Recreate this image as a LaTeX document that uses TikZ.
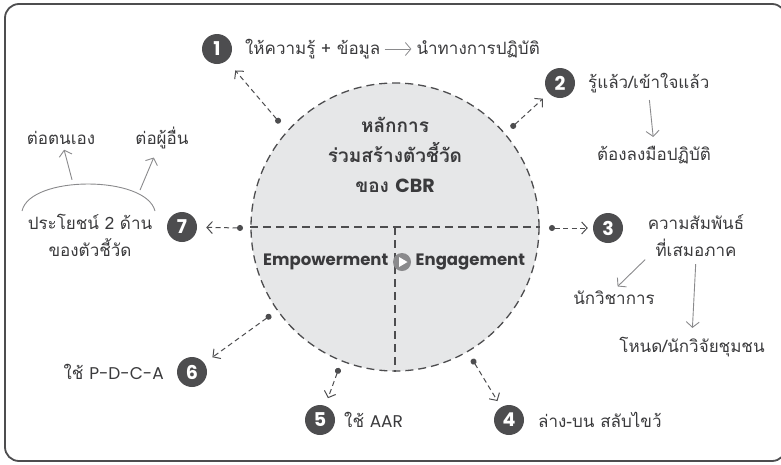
\documentclass[tikz,border=0pt]{standalone}
\usepackage{fontspec}
\setmainfont{Poppins}
\newfontfamily\thaifont[Script=Thai]{Loma}
\usetikzlibrary{arrows.meta,positioning}
\definecolor{darkgrey}{HTML}{4D4D4F}
\definecolor{lightgrey}{HTML}{E6E7E8}
\definecolor{linegrey}{HTML}{8A8A8C}
\definecolor{textgrey}{HTML}{3A3A3C}

\begin{document}
\begin{tikzpicture}[x=1pt,y=-1pt,
        numdot/.style={circle,fill=darkgrey,text=white,inner sep=0pt,minimum size=30pt,
            font=\bfseries\fontsize{19}{19}\selectfont},
        label/.style={text=textgrey,inner sep=1pt,align=center,font=\thaifont\fontsize{17}{27}\selectfont},
        dashlink/.style={draw=darkgrey,line width=1pt,dash pattern=on 5pt off 3.5pt,
            {Circle[length=6pt]}-{Straight Barb[length=5.5pt,width=12pt]}},
        thinarrow/.style={draw=linegrey,line width=0.9pt,-{Straight Barb[length=5.5pt,width=13pt]}}]
    \useasboundingbox (0,0) rectangle (781,464);
    % frame
    \draw[darkgrey,line width=1.8pt,rounded corners=14pt] (5,4) rectangle (786,461);

    % the core circle
    \node[circle,minimum size=288pt,fill=lightgrey,draw=darkgrey,line width=1.3pt,
        dash pattern=on 8pt off 5pt] (core) at (395,227) {};
    \draw[darkgrey,line width=1.3pt,dash pattern=on 8pt off 5pt] (core.west) -- (core.east);
    \draw[darkgrey,line width=1.3pt,dash pattern=on 8pt off 5pt] (core.center) -- (core.south);
    \node[text=textgrey,align=center,font=\thaifont\bfseries\fontsize{19}{30}\selectfont] (title) at (395,155)
        {หลักการ\\ร่วมสร้างตัวชี้วัด\\ของ {\fontspec{Poppins}\bfseries CBR}};
    \node[circle,fill=linegrey,minimum size=18pt,inner sep=0pt] (play) at (402,262) {};
    \fill[white] ([xshift=-3pt,yshift=5pt]play.center) -- ([xshift=-3pt,yshift=-5pt]play.center)
        -- ([xshift=5.5pt]play.center) -- cycle;
    \node[left=1pt of play,text=textgrey,font=\bfseries\fontsize{16.5}{17}\selectfont] (power) {Empowerment};
    \node[right=1pt of play,text=textgrey,font=\bfseries\fontsize{16.5}{17}\selectfont] (engage) {Engagement};

    % numbered points
    \node[numdot] (n1) at (217,49) {1};
    \node[numdot] (n2) at (560,83) {2};
    \node[numdot] (n3) at (608,228) {3};
    \node[numdot] (n4) at (509,420) {4};
    \node[numdot] (n5) at (320,420) {5};
    \node[numdot] (n6) at (192,372) {6};
    \node[numdot] (n7) at (182,227) {7};

    % dots on the core
    \coordinate (d1) at (280,123);
    \coordinate (d2) at (511,128);
    \coordinate (d3) at (549,228);
    \coordinate (d4) at (472,359);
    \coordinate (d5) at (339,368);
    \coordinate (d6) at (271,315);
    \coordinate (d7) at (243,228);
    \draw[dashlink,shorten >=13pt] (d1) -- (n1);
    \draw[dashlink,shorten >=8pt] (d2) -- (n2);
    \draw[dashlink,shorten >=5pt] (d3) -- (n3);
    \draw[dashlink,shorten >=7pt] (d4) -- (n4);
    \draw[dashlink,shorten >=8pt] (d5) -- (n5);
    \draw[dashlink,shorten >=10pt] (d6) -- (n6);
    \draw[dashlink,shorten >=9pt] (d7) -- (n7);

    % 1
    \node[label,anchor=west] (t1a) at (244,49) {ให้ความรู้ + ข้อมูล};
    \node[label,anchor=east] (t1b) at (541,49) {นำทางการปฏิบัติ};
    \draw[thinarrow,line width=0.8pt,shorten <=3pt,shorten >=4pt] (t1a) -- (t1b);
    % 2
    \node[label,anchor=west] (t2) at (587,83) {รู้แล้ว/เข้าใจแล้ว};
    \node[label] (t2b) at (654,155) {ต้องลงมือปฏิบัติ};
    \draw[thinarrow,shorten <=6pt,shorten >=8pt] (t2.south) -- (t2b.north);
    % 3
    \node[label] (t3) at (696,236) {ความสัมพันธ์\\ที่เสมอภาค};
    \node[label] (t3a) at (614,298) {นักวิชาการ};
    \node[label] (t3b) at (692,347) {โหนด/นักวิจัยชุมชน};
    \draw[thinarrow,shorten <=2pt,shorten >=5pt] (t3.south west) -- (t3a.north);
    \draw[thinarrow,shorten <=6pt,shorten >=8pt] (t3.south) -- (t3b.north);
    % 4 5 6
    \node[label,anchor=west] (t4) at (537,420) {ล่าง-บน สลับไขว้};
    \node[label,anchor=west] (t5) at (343,420) {ใช้ {\fontspec{Poppins}AAR}};
    \node[label,anchor=east] (t6) at (165,372) {ใช้ {\fontspec{Poppins}P-D-C-A}};
    % 7
    \node[label] (t7) at (90,235) {ประโยชน์ 2 ด้าน\\ของตัวชี้วัด};
    \draw[linegrey,line width=0.9pt] (22,211) .. controls (30,175) and (146,175) .. (155,211)
        coordinate[pos=0.42] (arcl) coordinate[pos=0.8] (arcr);
    \node[label] (t7a) at (61,138) {ต่อตนเอง};
    \node[label] (t7b) at (162,138) {ต่อผู้อื่น};
    \draw[thinarrow,shorten <=5pt,shorten >=4pt] (arcl) -- (t7a);
    \draw[thinarrow,shorten <=4pt,shorten >=8pt] (arcr) -- (t7b);
\end{tikzpicture}
\end{document}
